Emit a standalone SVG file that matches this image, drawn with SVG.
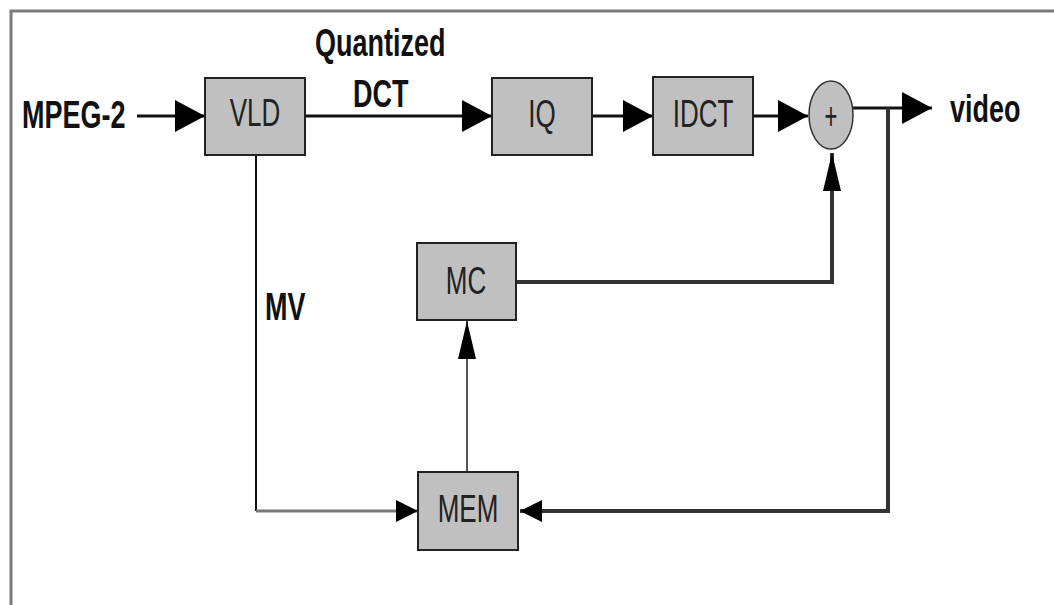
<svg xmlns="http://www.w3.org/2000/svg" width="1054" height="605" viewBox="0 0 1054 605">
<style>
.box{fill:#c0c0c0;stroke:#222;stroke-width:2}
.lbl{font-family:"Liberation Sans",Arial,sans-serif;font-size:26px;fill:#222;text-anchor:middle}
.bold{font-family:"Liberation Sans",Arial,sans-serif;font-size:27px;font-weight:bold;fill:#111}
.wire{fill:none;stroke:#111;stroke-width:3}
</style>
<defs>
<marker id="big" viewBox="0 0 30 32" refX="30" refY="16" markerWidth="30" markerHeight="32" markerUnits="userSpaceOnUse" orient="auto"><path d="M0,0 L30,16 L0,32 Z" fill="#000"/></marker>
<marker id="tall" viewBox="0 0 38 18" refX="38" refY="9" markerWidth="38" markerHeight="18" markerUnits="userSpaceOnUse" orient="auto"><path d="M0,0 L38,9 L0,18 Z" fill="#000"/></marker>
<marker id="small" viewBox="0 0 22 22" refX="22" refY="11" markerWidth="22" markerHeight="22" markerUnits="userSpaceOnUse" orient="auto"><path d="M0,0 L22,11 L0,22 Z" fill="#000"/></marker>
</defs>
<rect width="1054" height="605" fill="#fff"/>
<path d="M11,605 V11 H1054" fill="none" stroke="#7a7a7a" stroke-width="3"/>

<g id="labels">
<text class="bold" transform="translate(22,128) scale(1,1.45)">MPEG-2</text>
<text class="bold" transform="translate(315,56) scale(1,1.45)">Quantized</text>
<text class="bold" transform="translate(353,107) scale(1,1.45)">DCT</text>
<text class="bold" transform="translate(265,320) scale(1,1.45)">MV</text>
<text class="bold" transform="translate(950,122) scale(1,1.45)">video</text>
</g>

<g id="connectors">
<line class="wire" x1="137" y1="116" x2="205" y2="116" marker-end="url(#big)"/>
<line class="wire" x1="305" y1="116" x2="492" y2="116" marker-end="url(#big)"/>
<line class="wire" x1="592" y1="116" x2="653" y2="116" marker-end="url(#big)"/>
<line class="wire" x1="753" y1="116" x2="808" y2="116" marker-end="url(#big)"/>
<line class="wire" x1="853" y1="108" x2="932" y2="108" marker-end="url(#big)"/>
<path d="M516,282 H832 V153" fill="none" stroke="#333" stroke-width="4" marker-end="url(#tall)"/>
<path d="M888,108 V511 H520" fill="none" stroke="#333" stroke-width="4" marker-end="url(#small)"/>
<path d="M256,155 V511" fill="none" stroke="#111" stroke-width="2"/>
<path d="M256,511 H418" fill="none" stroke="#777" stroke-width="3" marker-end="url(#small)"/>
<path d="M467,472 V321" fill="none" stroke="#555" stroke-width="2" marker-end="url(#tall)"/>
</g>

<g id="vld"><rect class="box" x="205" y="78" width="100" height="77"/><text class="lbl" transform="translate(255,126) scale(1,1.5)">VLD</text></g>
<g id="iq"><rect class="box" x="492" y="78" width="100" height="77"/><text class="lbl" transform="translate(542,127) scale(1,1.5)">IQ</text></g>
<g id="idct"><rect class="box" x="653" y="77" width="100" height="78"/><text class="lbl" transform="translate(703,127) scale(1,1.5)">IDCT</text></g>
<g id="sum"><ellipse cx="831" cy="115" rx="22" ry="34" fill="#c0c0c0" stroke="#333" stroke-width="1.5"/><text class="lbl" style="font-size:22px" transform="translate(831,129) scale(1,1.8)">+</text></g>
<g id="mc"><rect class="box" x="417" y="243" width="99" height="77"/><text class="lbl" transform="translate(466,294) scale(1,1.5)">MC</text></g>
<g id="mem"><rect class="box" x="418" y="472" width="100" height="78"/><text class="lbl" transform="translate(468,522) scale(1,1.5)">MEM</text></g>
</svg>
